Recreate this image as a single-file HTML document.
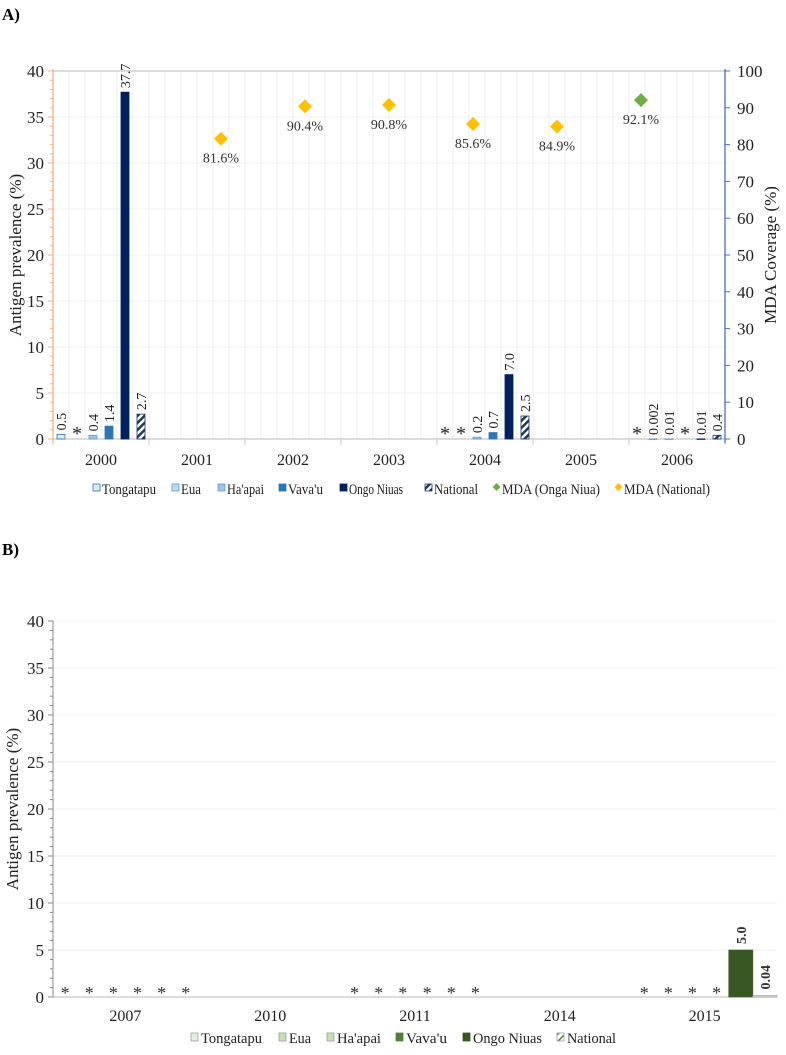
<!DOCTYPE html>
<html><head><meta charset="utf-8"><style>
html,body{margin:0;padding:0;background:#fff}
svg, svg text{font-family:"Liberation Serif","Times New Roman",serif}
</style></head><body>
<svg id="s" width="786" height="1050" viewBox="0 0 786 1050" font-family="Liberation Serif, serif">
<defs>
<pattern id="hatchA" patternUnits="userSpaceOnUse" width="5" height="5" patternTransform="rotate(45)">
<rect width="5" height="5" fill="#fff"/><rect width="2.5" height="5" fill="#1f3864"/></pattern>
<pattern id="hatchB" patternUnits="userSpaceOnUse" width="5" height="5" patternTransform="rotate(45)">
<rect width="5" height="5" fill="#fff"/><rect width="1.5" height="5" fill="#548235"/></pattern>
</defs>
<text x="2" y="20" font-size="17" font-weight="bold">A)</text>
<text x="2" y="555" font-size="17" font-weight="bold">B)</text>
<g id="A"></g><g id="B"></g>
</svg>
<script>
const NS="http://www.w3.org/2000/svg";
function mk(p,t,a){const e=document.createElementNS(NS,t);for(const k in a)e.setAttribute(k,a[k]);if(t==="text")e.setAttribute("font-family","Liberation Serif, serif");p.appendChild(e);return e;}
function fmt(v){return v>=0.1?v.toFixed(1):String(v);}

// ---------- Chart A data ----------
const catsA=["2000","2001","2002","2003","2004","2005","2006"];
const seriesNamesA=["Tongatapu","Eua","Ha'apai","Vava'u","Ongo Niuas","National"];
const tongaA=[0.5,null,null,null,"*",null,"*"];
const euaA=["*",null,null,null,"*",null,0.002];
const haapaiA=[0.4,null,null,null,0.2,null,0.01];
const vavauA=[1.4,null,null,null,0.7,null,"*"];
const ongoA=[37.7,null,null,null,7.0,null,0.01];
const nationalA=[2.7,null,null,null,2.5,null,0.4];
const mdaNatPos=[2,3,4,5,6];
const mdaNatVals=[81.6,90.4,90.8,85.6,84.9];
const mdaOngoPos=[7];
const mdaOngoVals=[92.1];
const leftTicksA=[0,5,10,15,20,25,30,35,40];
const rightTicksA=[0,10,20,30,40,50,60,70,80,90,100];

// ---------- Chart B data ----------
const catsB=["2007","2010","2011","2014","2015"];
const tongaB=["*",null,"*",null,"*"];
const euaB=["*",null,"*",null,"*"];
const haapaiB=["*",null,"*",null,"*"];
const vavauB=["*",null,"*",null,"*"];
const ongoB=["*",null,"*",null,5.0];
const nationalB=["*",null,"*",null,0.04];
const leftTicksB=[0,5,10,15,20,25,30,35,40];

// ====== Chart A ======
(function(){
const g=document.getElementById("A");
const L=53,R=725,T=71,B=439,ymax=40;
const y=v=>B-(v/ymax)*(B-T);
const y2=v=>B-(v/100)*(B-T);
const gw=(R-L)/catsA.length, sw=gw/6;
const x=(c,s)=>L+c*gw+sw/2+s*sw;
const x2=p=>L+p*(R-L)/8;
for(let i=0;i<=catsA.length*6;i++){const gx=L+i*sw;const l=mk(g,"line",{x1:gx,x2:gx,y1:T,y2:B,stroke:"#efefef","stroke-width":1});}
leftTicksA.forEach(t=>{const l=mk(g,"line",{x1:L,x2:R,y1:y(t),y2:y(t),stroke:"#f0f0f0"});});
const top=mk(g,"line",{x1:L,x2:R,y1:T,y2:T,stroke:"#c8c8c8","stroke-width":1.2});
const xa=mk(g,"line",{x1:L,x2:R,y1:B,y2:B,stroke:"#c8c8c8","stroke-width":1.2});
for(let i=0;i<=catsA.length;i++){const l=mk(g,"line",{x1:L+i*gw,x2:L+i*gw,y1:B,y2:B+6,stroke:"#c8c8c8"});}
catsA.forEach((c,i)=>{const t=mk(g,"text",{x:L+i*gw+gw/2,y:B+26,"font-size":16,"text-anchor":"middle",fill:"#222"});t.textContent=c;});
const la=mk(g,"line",{x1:L,x2:L,y1:T-2,y2:B+4,stroke:"#f4b183","stroke-width":1.3});
for(let v=0;v<=ymax;v++){const maj=v%5==0;const l=mk(g,"line",{x1:L-(maj?5:3),x2:L,y1:y(v),y2:y(v),stroke:"#f4b183"});}
leftTicksA.forEach(t=>{const e=mk(g,"text",{x:L-9,y:y(t)+6,"font-size":17,"text-anchor":"end",fill:"#222"});e.textContent=t;});
const lt=mk(g,"text",{transform:`translate(21,${(T+B)/2}) rotate(-90)`,"font-size":17,"text-anchor":"middle",fill:"#222"});lt.textContent="Antigen prevalence (%)";
const ra=mk(g,"line",{x1:R,x2:R,y1:T-2,y2:B+4,stroke:"#4472c4","stroke-width":1.3});
rightTicksA.forEach(t=>{const l=mk(g,"line",{x1:R,x2:R+5,y1:y2(t),y2:y2(t),stroke:"#4472c4"});
const e=mk(g,"text",{x:R+12,y:y2(t)+6,"font-size":17,fill:"#222"});e.textContent=t;});
const rt=mk(g,"text",{transform:`translate(776,${(T+B)/2}) rotate(-90)`,"font-size":17,"text-anchor":"middle",fill:"#222"});rt.textContent="MDA Coverage (%)";
const fills=["#deebf7","#bdd7ee","#9dc3e6","#2e75b6","#002060","url(#hatchA)"];
const strokes=["#2e75b6","#5b9bd5","#5b9bd5","#2e75b6","#002060","#1f3864"];
const all=[tongaA,euaA,haapaiA,vavauA,ongoA,nationalA];
all.forEach((arr,s)=>arr.forEach((v,c)=>{
 const cx=x(c,s);
 if(v==="*"){const t=mk(g,"text",{x:cx,y:B+1,"font-size":20,"text-anchor":"middle",fill:"#222"});t.textContent="*";return;}
 if(v===null)return;
 const h=B-y(v);
 const r=mk(g,"rect",{x:cx-4,y:y(v),width:8,height:Math.max(h,0.5),fill:fills[s],stroke:strokes[s],"stroke-width":0.8});
 
 const t=mk(g,"text",{transform:`translate(${cx+5},${y(v)-4}) rotate(-90)`,"font-size":14,fill:"#222"});t.textContent=fmt(v);
}));
function diamond(px,v,col,name){const cy=y2(v);const d=mk(g,"path",{d:`M${px} ${cy-7}L${px+7} ${cy}L${px} ${cy+7}L${px-7} ${cy}Z`,fill:col});
const t=mk(g,"text",{x:px,y:cy+24,"font-size":14,"text-anchor":"middle",fill:"#333"});t.textContent=v.toFixed(1)+"%";}
mdaNatPos.forEach((p,i)=>diamond(x2(p),mdaNatVals[i],"#ffc000","mda-national-point"));
mdaOngoPos.forEach((p,i)=>diamond(x2(p),mdaOngoVals[i],"#70ad47","mda-onga-niua-point"));
const items=[["Tongatapu","sq",0],["Eua","sq",1],["Ha'apai","sq",2],["Vava'u","sq",3],["Ongo Niuas","sq",4],["National","sq",5],["MDA (Onga Niua)","dm","#70ad47"],["MDA (National)","dm","#ffc000"]];
const lx=[93,172,218,279,340,425,493,615];
const lw=[54,20,37,35,54,44,98,86];
items.forEach((it,i)=>{const gg=mk(g,"g",{});
 const ly=494;
 if(it[1]=="sq")mk(gg,"rect",{x:lx[i],y:ly-10,width:7,height:7,fill:fills[it[2]],stroke:strokes[it[2]],"stroke-width":0.8});
 else mk(gg,"path",{d:`M${lx[i]+3.5} ${ly-11}L${lx[i]+7.5} ${ly-7}L${lx[i]+3.5} ${ly-3}L${lx[i]-0.5} ${ly-7}Z`,fill:it[2]});
 const t=mk(gg,"text",{x:lx[i]+9,y:ly,"font-size":15,fill:"#222",textLength:lw[i],lengthAdjust:"spacingAndGlyphs"});t.textContent=it[0];});
})();

// ====== Chart B ======
(function(){
const g=document.getElementById("B");
const L=53,R=777,T=621,B=997,ymax=40;
const y=v=>B-(v/ymax)*(B-T);
const gw=(R-L)/catsB.length, sw=gw/6;
const x=(c,s)=>L+c*gw+sw/2+s*sw;
leftTicksB.forEach(t=>{if(t==0)return;const l=mk(g,"line",{x1:L,x2:R,y1:y(t),y2:y(t),stroke:"#f2f2f2"});});
const xa=mk(g,"line",{x1:L,x2:R,y1:B,y2:B,stroke:"#c8c8c8","stroke-width":1.2});
catsB.forEach((c,i)=>{const t=mk(g,"text",{x:L+i*gw+gw/2,y:B+24,"font-size":16,"text-anchor":"middle",fill:"#222"});t.textContent=c;});
const la=mk(g,"line",{x1:L,x2:L,y1:T,y2:B,stroke:"#888","stroke-width":1});
for(let v=0;v<=ymax;v++){const maj=v%5==0;const l=mk(g,"line",{x1:L-(maj?5:3),x2:L,y1:y(v),y2:y(v),stroke:"#888"});}
leftTicksB.forEach(t=>{const e=mk(g,"text",{x:L-9,y:y(t)+6,"font-size":17,"text-anchor":"end",fill:"#222"});e.textContent=t;});
const lt=mk(g,"text",{transform:`translate(18,${(T+B)/2}) rotate(-90)`,"font-size":17,"text-anchor":"middle",fill:"#222"});lt.textContent="Antigen prevalence (%)";
const names=["Tongatapu","Eua","Ha'apai","Vava'u","Ongo Niuas","National"];
const fills=["#e2efda","#c5e0b4","#c5e0b4","#548235","#385723","url(#hatchB)"];
const strokes=["#a9d18e","#a9d18e","#a9d18e","#548235","#385723","#a0a0a0"];
const all=[tongaB,euaB,haapaiB,vavauB,ongoB,nationalB];
all.forEach((arr,s)=>arr.forEach((v,c)=>{
 const cx=x(c,s);
 if(v==="*"){const t=mk(g,"text",{x:cx,y:B+2,"font-size":18,"text-anchor":"middle",fill:"#333"});t.textContent="*";return;}
 if(v===null)return;
 const h=Math.max(B-y(v),1.5);
 const r=mk(g,"rect",{x:cx-sw/2,y:B-h,width:sw,height:h,fill:s==5?"#d0d8c8":fills[s],stroke:strokes[s],"stroke-width":0.6});
 
 const t=mk(g,"text",{transform:`translate(${cx+5},${B-h-6}) rotate(-90)`,"font-size":14,"font-weight":"bold",fill:"#333"});t.textContent=v>=0.1?v.toFixed(1):String(v);
}));
const lx=[191,279,327,396,463,557];
const lw=[61,22,44,41,69,49];
names.forEach((n,i)=>{const gg=mk(g,"g",{});
 const ly=1043;
 mk(gg,"rect",{x:lx[i],y:ly-10,width:7,height:8,fill:fills[i],stroke:i<3?"#a0a0a0":strokes[i],"stroke-width":0.8});
 const t=mk(gg,"text",{x:lx[i]+10,y:ly,"font-size":15,fill:"#222",textLength:lw[i],lengthAdjust:"spacingAndGlyphs"});t.textContent=n;});
})();
</script>
</body></html>
